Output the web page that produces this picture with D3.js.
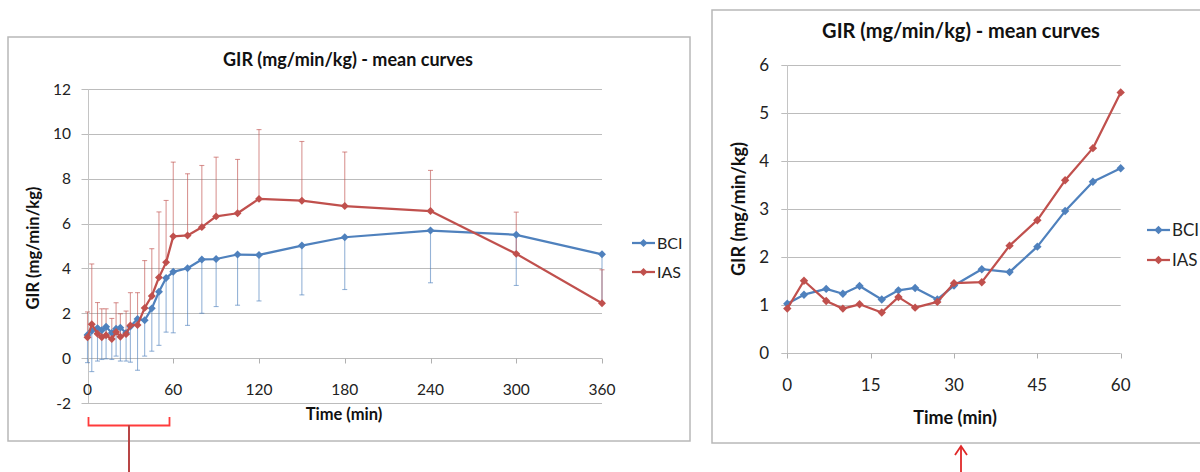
<!DOCTYPE html>
<html><head><meta charset="utf-8">
<script src="https://cdn.jsdelivr.net/npm/d3@7/dist/d3.min.js"></script>
<style>
html,body{margin:0;padding:0;background:#fff;}
svg{display:block;font-family:Lato,"Open Sans",sans-serif;}
</style></head>
<body>
<svg id="chart" width="1200" height="472"></svg>
<script>
// ---- data ----
const times = [0,3,7,10,13,17,20,23,27,30,35,40,45,50,55,60,70,80,90,105,120,150,180,240,300,360];
const bciMean = [1.03,1.22,1.34,1.24,1.40,1.12,1.31,1.36,1.12,1.41,1.75,1.69,2.22,2.96,3.57,3.85,4.01,4.40,4.42,4.62,4.60,5.02,5.39,5.69,5.50,4.63];
const bciSD   = [1.23,1.82,1.47,1.30,1.43,1.18,1.22,1.49,1.25,1.59,2.29,1.60,1.91,2.39,2.41,2.72,2.55,2.40,2.12,2.26,2.05,2.20,2.33,2.33,2.26,2.14];
const iasMean = [0.93,1.51,1.09,0.93,1.02,0.85,1.17,0.95,1.07,1.46,1.48,2.24,2.77,3.60,4.27,5.43,5.47,5.84,6.32,6.46,7.10,7.02,6.78,6.56,4.65,2.45];
const iasSD   = [1.13,2.69,1.39,1.27,1.18,0.92,1.30,1.03,1.03,1.46,1.44,2.11,2.11,2.92,2.76,3.31,2.75,2.75,2.64,2.40,3.09,2.64,2.41,1.81,1.86,1.49];
const seriesNames = ["BCI","IAS"];
const leftXTicks = [0,60,120,180,240,300,360];
const leftYTicks = [-2,0,2,4,6,8,10,12];
const rightXTicks = [0,15,30,45,60];
const rightYTicks = [0,1,2,3,4,5,6];
const chartTitle = "GIR (mg/min/kg) - mean curves";
const yTitle = "GIR (mg/min/kg)";
const xTitle = "Time (min)";

const colors = {BCI:"#4f81bd", IAS:"#c0504d"};
const svg = d3.select("#chart");
svg.append("rect").attr("width",1200).attr("height",472).attr("fill","#fff");

function makeChart(cfg){
  const g = svg.append("g");
  g.append("rect").attr("x",cfg.frame[0]).attr("y",cfg.frame[1]).attr("width",cfg.frame[2]).attr("height",cfg.frame[3])
    .attr("fill","#fff").attr("stroke","#b8b8b8").attr("stroke-width",1.5);
  const x = d3.scaleLinear().domain(cfg.xDomain).range(cfg.xRange);
  const y = d3.scaleLinear().domain(cfg.yDomain).range(cfg.yRange);
  // gridlines
  g.append("g").selectAll("line").data(cfg.yTicks).join("line")
    .attr("x1",cfg.xRange[0]-6).attr("x2",cfg.xRange[1])
    .attr("y1",d=>Math.round(y(d))+0.5).attr("y2",d=>Math.round(y(d))+0.5)
    .attr("stroke","#bcbcbc").attr("stroke-width",1);
  // y axis line
  g.append("line").attr("x1",Math.round(x(0))+0.5).attr("x2",Math.round(x(0))+0.5)
    .attr("y1",cfg.yRange[1]).attr("y2",cfg.yRange[0]).attr("stroke","#c4c4c4");
  // x ticks at y=0
  const y0 = Math.round(y(0))+0.5;
  g.append("g").selectAll("line").data(cfg.xTicks).join("line")
    .attr("x1",d=>Math.round(x(d))+0.5).attr("x2",d=>Math.round(x(d))+0.5)
    .attr("y1",y0).attr("y2",y0+5).attr("stroke","#b0b0b0");
  // y labels
  g.append("g").selectAll("text").data(cfg.yTicks).join("text")
    .attr("x",cfg.yLabelX).attr("y",d=>y(d)+cfg.tickSize*0.36).attr("text-anchor","end")
    .attr("font-size",cfg.tickSize).attr("fill","#222").text(d=>d);
  // x labels
  g.append("g").selectAll("text").data(cfg.xTicks).join("text")
    .attr("x",d=>x(d)).attr("y",y(0)+cfg.xLabelDy).attr("text-anchor","middle")
    .attr("font-size",cfg.tickSize).attr("fill","#222").text(d=>d);
  // titles
  g.append("text").attr("x",cfg.titlePos[0]).attr("y",cfg.titlePos[1]).attr("text-anchor","middle")
    .attr("font-size",cfg.titleSize).attr("font-weight","bold").attr("fill","#111").text(chartTitle);
  g.append("text").attr("x",cfg.xTitlePos[0]).attr("y",cfg.xTitlePos[1]).attr("text-anchor","middle")
    .attr("font-size",cfg.axisTitleSize).attr("font-weight","bold").attr("fill","#111").text(xTitle);
  g.append("text").attr("transform",`translate(${cfg.yTitlePos[0]},${cfg.yTitlePos[1]}) rotate(-90)`)
    .attr("text-anchor","middle").attr("font-size",cfg.axisTitleSize).attr("font-weight","bold").attr("fill","#111").text(yTitle);

  const idx = times.map((t,i)=>i).filter(i=>times[i]<=cfg.xDomain[1]);
  const series = [
    {name:"BCI", mean:bciMean, sd:bciSD, dir:-1},
    {name:"IAS", mean:iasMean, sd:iasSD, dir:1}
  ];
  if(cfg.errorBars){
    series.forEach(s=>{
      const eg = g.append("g").attr("stroke",colors[s.name]).attr("stroke-opacity",0.6).attr("stroke-width",1.1);
      idx.forEach(i=>{
        const xx = x(times[i]);
        const ye = y(s.mean[i] + s.dir*s.sd[i]);
        eg.append("line").attr("x1",xx).attr("x2",xx).attr("y1",y(s.mean[i])).attr("y2",ye);
        eg.append("line").attr("x1",xx-2.5).attr("x2",xx+2.5).attr("y1",ye).attr("y2",ye);
      });
    });
  }
  series.forEach(s=>{
    const ln = d3.line().x(i=>x(times[i])).y(i=>y(s.mean[i]));
    g.append("path").datum(idx).attr("d",ln).attr("fill","none")
      .attr("stroke",colors[s.name]).attr("stroke-width",2.25).attr("stroke-linejoin","round");
    g.append("g").selectAll("path").data(idx).join("path")
      .attr("d",d3.symbol(d3.symbolDiamond2 || d3.symbolDiamond, cfg.markerSize))
      .attr("transform",i=>`translate(${x(times[i])},${y(s.mean[i])})`)
      .attr("fill",colors[s.name]);
  });
  // legend
  seriesNames.forEach((n,k)=>{
    const ly = cfg.legendY[k];
    g.append("line").attr("x1",cfg.legendX).attr("x2",cfg.legendX+23).attr("y1",ly).attr("y2",ly)
      .attr("stroke",colors[n]).attr("stroke-width",2.25);
    g.append("path").attr("d",d3.symbol(d3.symbolDiamond2 || d3.symbolDiamond, cfg.markerSize))
      .attr("transform",`translate(${cfg.legendX+11.5},${ly})`).attr("fill",colors[n]);
    g.append("text").attr("x",cfg.legendX+25).attr("y",ly+cfg.legendSize*0.36).attr("font-size",cfg.legendSize).attr("fill","#222").text(n);
  });
}

makeChart({
  frame:[8,37,682,404],
  xDomain:[0,360], xRange:[87.5,602],
  yDomain:[-2,12], yRange:[403,89],
  xTicks:leftXTicks, yTicks:leftYTicks,
  tickSize:15.5, xLabelDy:37,
  yLabelX:71, titlePos:[348,66], titleSize:18,
  axisTitleSize:16.5,
  xTitlePos:[344,420], yTitlePos:[39,248],
  errorBars:true, markerSize:40,
  legendX:632, legendY:[243,272], legendSize:16
});
makeChart({
  frame:[712,10,520,433],
  xDomain:[0,60], xRange:[787.3,1120.7],
  yDomain:[0,6], yRange:[353.3,65],
  xTicks:rightXTicks, yTicks:rightYTicks,
  tickSize:17, xLabelDy:38,
  yLabelX:769, titlePos:[961,38], titleSize:20,
  axisTitleSize:18,
  xTitlePos:[955,424], yTitlePos:[745,209],
  errorBars:false, markerSize:45,
  legendX:1147, legendY:[230,260], legendSize:17
});

// annotations
svg.append("path").attr("d","M88.5,417 V425.5 H169.5 V417").attr("fill","none").attr("stroke","#ff3b3b").attr("stroke-width",1.8);
svg.append("line").attr("x1",129).attr("x2",129).attr("y1",425).attr("y2",472).attr("stroke","#b84545").attr("stroke-width",2);
svg.append("line").attr("x1",961).attr("x2",961).attr("y1",446).attr("y2",472).attr("stroke","#e02828").attr("stroke-width",1.8);
svg.append("path").attr("d","M955,455 L961,446 L967,455").attr("fill","none").attr("stroke","#e02828").attr("stroke-width",1.8);
</script>
</body></html>
